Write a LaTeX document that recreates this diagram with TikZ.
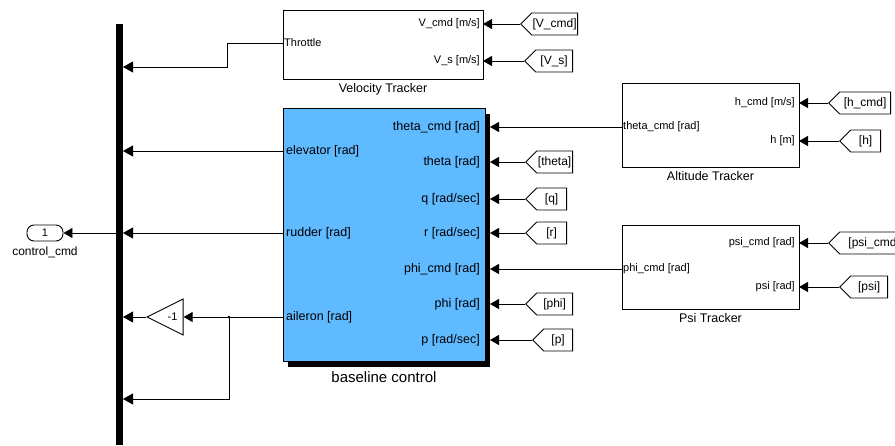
\documentclass[tikz,border=0pt]{standalone}
\usepackage{fontspec}
\setmainfont{Liberation Sans}
\usetikzlibrary{arrows.meta,positioning,calc,shapes.geometric,shapes.symbols,shadows}

\definecolor{ctrlblue}{RGB}{96,186,255}

\tikzset{
  sig/.style={-{Triangle[length=9pt,width=10pt]}, line width=0.9pt},
  busin/.style={-{Triangle[length=10pt,width=11pt]}, line width=0.9pt},
  subsys/.style={draw, line width=0.9pt, inner sep=0pt},
  tag/.style={draw, line width=0.9pt, signal, signal to=west, signal pointer angle=90,
    minimum height=22pt, inner sep=1pt, font=\fontsize{12}{12}\selectfont},
  portlbl/.style={inner sep=0pt, font=\fontsize{11}{11}\selectfont},
  bigport/.style={inner sep=0pt, font=\fontsize{12.5}{12.5}\selectfont},
  caption/.style={inner sep=0pt, font=\fontsize{12.5}{12.5}\selectfont},
}

\begin{document}
\begin{tikzpicture}[x=1pt,y=-1pt]
\useasboundingbox (0,0) rectangle (895,446);

% Mux bus and outport
\node[fill=black, minimum width=7pt, minimum height=421pt, inner sep=0pt] (bus) at (119.5,234.5) {};
\foreach \y [count=\i] in {67,151,233,317,399}
  \coordinate (bus\i) at (123,\y);
\node[draw, line width=0.9pt, rounded corners=7pt, minimum width=36pt, minimum height=16pt,
  inner sep=0pt, font=\fontsize{11}{11}\selectfont] (out) at (45,233) {1};
\node[caption, font=\fontsize{12}{12}\selectfont, below=5pt of out] (outlbl) {control\_cmd};
\draw[sig] (bus.west |- out) -- (out);

% Velocity tracker
\node[subsys, minimum width=200pt, minimum height=69pt] (vt) at (383,44.5) {};
\node[caption, below=4pt of vt] (vtlbl) {Velocity Tracker};
\node[portlbl, anchor=west] (thr) at (284,43) {Throttle};
\foreach \nm/\txt/\y in {vcmd/{V\_cmd [m/s]}/24, vs/{V\_s [m/s]}/61}
  \node[portlbl, anchor=east] (l-\nm) at (480,\y) {\txt};
\draw[busin] (vt.west |- thr) -- ++(-55,0) |- (bus1);

% Baseline controller
\node[subsys, fill=ctrlblue, minimum width=202pt, minimum height=253pt,
  drop shadow={shadow xshift=5pt, shadow yshift=-6pt, fill=black, opacity=1}] (bc) at (384,234.5) {};
\node[caption, font=\fontsize{15}{15}\selectfont, below=10pt of bc] (bclbl) {baseline control};
\foreach \nm/\txt/\y in {thcmd/{theta\_cmd [rad]}/127, theta/{theta [rad]}/162,
    q/{q [rad/sec]}/199, r/{r [rad/sec]}/233, phicmd/{phi\_cmd [rad]}/269,
    phi/{phi [rad]}/304, p/{p [rad/sec]}/340}
  \node[bigport, anchor=east] (l-\nm) at (480,\y) {\txt};
\foreach \nm/\txt/\y in {elev/{elevator [rad]}/151, rud/{rudder [rad]}/233, ail/{aileron [rad]}/317}
  \node[bigport, anchor=west] (l-\nm) at (286,\y) {\txt};
\coordinate (in-thcmd) at (490,127);
\coordinate (in-phicmd) at (490,269);

% Outputs into the bus
\draw[busin] (bc.west |- bus2) -- (bus2);
\draw[busin] (bc.west |- bus3) -- (bus3);
\node[draw, line width=0.9pt, isosceles triangle, isosceles triangle stretches, shape border rotate=180,
  minimum width=36pt, minimum height=36pt, inner sep=0pt, anchor=apex,
  font=\fontsize{11}{11}\selectfont] (gain) at (146,317) {-1};
\coordinate (split) at (229,317);
\draw[sig] (bc.west |- bus4) -- (gain.lower side);
\draw[busin] (gain.apex) -- (bus4);
\fill (split) circle (1.4pt);
\draw[busin] (split) |- (bus5);

% Altitude and psi trackers
\node[subsys, minimum width=177pt, minimum height=84pt] (at) at (710.5,125) {};
\node[caption, below=4pt of at] (atlbl) {Altitude Tracker};
\node[subsys, minimum width=177pt, minimum height=84pt] (pt) at (710.5,267) {};
\node[caption, below=4pt of pt] (ptlbl) {Psi Tracker};
\foreach \nm/\txt/\y in {hcmd/{h\_cmd [m/s]}/103, h/{h [m]}/141, psicmd/{psi\_cmd [rad]}/243, psi/{psi [rad]}/287}
  \node[portlbl, anchor=east] (l-\nm) at (795,\y) {\txt};
\node[portlbl, anchor=west] (thout) at (623,127) {theta\_cmd [rad]};
\node[portlbl, anchor=west] (phiout) at (623,269) {phi\_cmd [rad]};
\draw[sig] (at.west |- in-thcmd) -- (in-thcmd);
\draw[sig] (pt.west |- in-phicmd) -- (in-phicmd);

% From tags: name/text/port x/tip x/width/y
\foreach \nm/\txt/\px/\tx/\w/\y in {
    vcmd/{[V\_cmd]}/483/520/52/24, vs/{[V\_s]}/483/524/48/61,
    theta/{[theta]}/490/525/47/162, q/{[q]}/490/525/41/199, r/{[r]}/490/525/41/233,
    phi/{[phi]}/490/525/47/304, p/{[p]}/490/532/40/340,
    hcmd/{[h\_cmd]}/799/828/62/103, h/{[h]}/799/839/41/141,
    psicmd/{[psi\_cmd]}/799/828/80/243, psi/{[psi]}/799/839/48/287}{
  \coordinate (in-\nm) at (\px,\y);
  \node[tag, minimum width=\w pt, anchor=west] (tag-\nm) at (\tx,\y) {\txt};
  \draw[sig] (tag-\nm.west) -- (in-\nm);
}
\end{tikzpicture}
\end{document}
